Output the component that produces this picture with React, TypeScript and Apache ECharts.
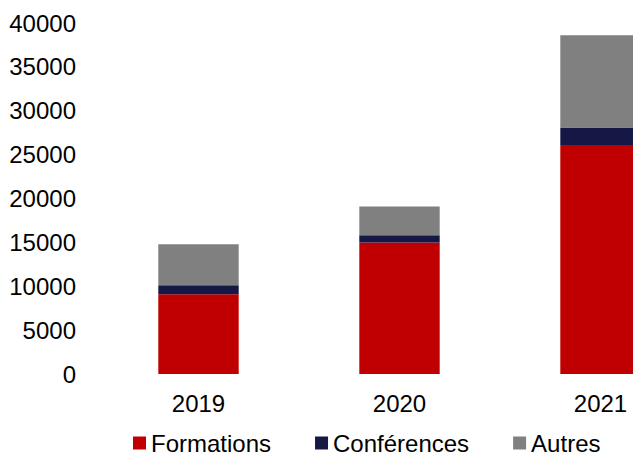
import React, { useEffect, useRef } from "react";
import * as echarts from "echarts";

const categories = ["2019", "2020", "2021"];
const formations = [9100, 15000, 26100];
const conferences = [1000, 800, 2000];
const autres = [4700, 3300, 10500];

const FONT = "'Liberation Sans', Arial, sans-serif";

export default function App() {
  const ref = useRef<HTMLDivElement>(null);
  useEffect(() => {
    if (!ref.current) return;
    const chart = echarts.init(ref.current, undefined, { renderer: "svg" });
    chart.setOption({
      animation: false,
      textStyle: { fontFamily: FONT },
      grid: { left: 98, right: 0, top: 23, bottom: 81, containLabel: false },
      legend: {
        left: 133,
        top: 431,
        padding: 0,
        itemWidth: 13,
        itemHeight: 13,
        itemGap: 44,
        icon: "rect",
        textStyle: { fontSize: 24, color: "#000", fontFamily: FONT },
        data: ["Formations", "Conférences", "Autres"],
      },
      xAxis: {
        type: "category",
        data: categories,
        axisLine: { show: false },
        axisTick: { show: false },
        axisLabel: { fontSize: 24, color: "#000", margin: 17, fontFamily: FONT },
      },
      yAxis: {
        type: "value",
        min: 0,
        max: 40000,
        interval: 5000,
        axisLine: { show: false },
        axisTick: { show: false },
        splitLine: { show: false },
        axisLabel: {
          fontSize: 24,
          color: "#000",
          margin: 22,
          fontFamily: FONT,
          formatter: (v: number) => String(v),
        },
      },
      series: [
        {
          name: "Formations",
          type: "bar",
          stack: "total",
          barWidth: "40%",
          data: formations,
          itemStyle: { color: "#C00000" },
        },
        {
          name: "Conférences",
          type: "bar",
          stack: "total",
          barWidth: "40%",
          data: conferences,
          itemStyle: { color: "#151744" },
        },
        {
          name: "Autres",
          type: "bar",
          stack: "total",
          barWidth: "40%",
          data: autres,
          itemStyle: { color: "#808080" },
        },
      ],
    });
    return () => chart.dispose();
  }, []);
  return (
    <div style={{ width: 633, height: 455, position: "absolute", left: 0, top: 0, overflow: "hidden" }}>
      <div ref={ref} style={{ width: 701, height: 455 }} />
    </div>
  );
}
